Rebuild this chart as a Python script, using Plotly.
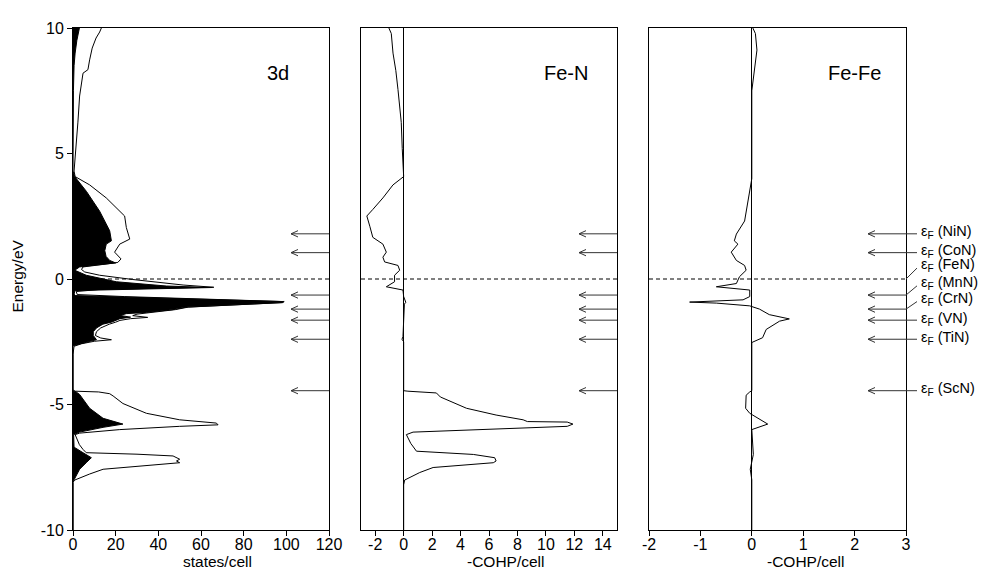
import plotly.graph_objects as go

# ---------------- data ----------------
# Panel 1: total DOS (line) and Fe 3d partial DOS (black fill), states/cell vs energy (eV)
E_total = [10.0, 9.84, 9.6, 9.2, 8.73, 8.34, 8.2, 7.29, 6.25, 4.94, 4.3, 4.08, 3.75, 3.23,
           2.51, 2.05, 1.59, 1.39, 1.07, 0.80, 0.66, 0.58, 0.48, 0.38, 0.28, 0.15, -0.02,
           -0.24, -0.33, -0.37, -0.42, -0.5, -0.62, -0.7, -0.8, -0.9, -0.94, -1.03, -1.12,
           -1.22, -1.33, -1.40, -1.46, -1.53, -1.58, -1.65, -1.72, -1.8, -1.95, -2.1, -2.25,
           -2.35, -2.42, -2.48, -2.58, -2.68, -3.0, -4.42, -4.47, -4.5, -4.57, -4.66, -4.96,
           -5.35, -5.61, -5.74, -5.81, -5.87, -6.0, -6.14, -6.2, -6.33, -6.6, -6.79, -6.92,
           -6.98, -7.05, -7.18, -7.25, -7.32, -7.45, -7.58, -7.77, -8.01, -8.1, -10.0]
dos_total = [13.3, 12.5, 10.8, 9.0, 7.8, 7.0, 4.7, 3.1, 2.3, 1.2, 0.5, 1.0, 7.8, 15.6,
             24.2, 25.0, 26.6, 21.9, 19.5, 22.5, 21.0, 14.0, 4.7, 4.0, 5.5, 12.5, 28.0,
             51.6, 66.0, 40.0, 12.0, 1.5, 2.0, 24.0, 62.0, 99.0, 98.4, 76.0, 54.0,
             48.0, 36.0, 30.0, 28.0, 35.0, 27.0, 22.0, 20.0, 17.0, 13.0, 11.0, 10.5,
             13.0, 18.0, 10.0, 4.0, 0.5, 0.0, 0.0, 1.0, 12.0, 17.2, 18.8, 23.4,
             34.4, 50.0, 67.2, 68.0, 50.0, 21.9, 3.1, 1.0, 1.6, 3.0, 4.7, 6.2,
             30.0, 46.9, 50.0, 48.5, 50.0, 29.7, 14.1, 7.8, 0.8, 0.0, 0.0]

E_3d = [10.0, 9.5, 9.0, 8.5, 7.5, 5.0, 4.3, 4.08, 3.49, 2.70, 1.92, 1.52, 1.39, 1.13, 0.90,
        0.74, 0.64, 0.55, 0.48, 0.35, 0.15, -0.11, -0.28, -0.34, -0.38, -0.42, -0.46, -0.6,
        -0.66, -0.72, -0.78, -0.84, -0.9, -0.94, -1.03, -1.12, -1.22, -1.33, -1.38, -1.45,
        -1.52, -1.58, -1.72, -1.8, -1.95, -2.1, -2.25, -2.35, -2.42, -2.48, -2.58, -2.66,
        -4.45, -4.5, -4.6, -5.15, -5.55, -5.68, -5.78, -5.91, -6.1, -6.2, -6.7, -6.92,
        -7.12, -7.32, -7.58, -8.0, -8.1, -10.0]
dos_3d = [3.0, 1.8, 1.0, 0.5, 0.2, 0.05, 0.0, 0.8, 6.3, 12.5, 17.2, 18.0, 15.6, 14.9, 15.5,
          17.2, 20.0, 10.0, 3.1, 0.8, 6.2, 20.3, 43.8, 65.0, 43.0, 22.0, 1.0, 0.5,
          1.0, 24.0, 49.0, 73.0, 98.5, 98.0, 75.0, 53.0, 46.9, 34.4, 25.0, 22.0,
          27.0, 22.0, 18.0, 14.0, 11.0, 9.5, 9.5, 10.5, 11.0, 8.0, 3.0, 0.0,
          0.0, 1.5, 3.1, 7.8, 14.1, 18.8, 23.4, 14.1, 3.1, 0.3, 0.5, 4.7,
          8.6, 6.2, 3.1, 0.5, 0.0, 0.0]

# Panel 2: Fe-N -COHP/cell
E_feN = [10.0, 9.78, 9.0, 8.3, 7.55, 6.24, 5.2, 4.27, 4.08, 3.75, 3.23, 2.77, 2.51, 2.1,
         1.66, 1.39, 1.07, 0.87, 0.68, 0.54, 0.35, 0.15, -0.11, -0.31, -0.44, -0.7, -0.85,
         -0.93, -1.0, -1.5, -2.3, -2.4, -2.5, -4.45, -4.47, -4.54, -4.70, -5.15, -5.42,
         -5.61, -5.68, -5.70, -5.78, -5.87, -5.91, -6.1, -6.2, -6.55, -6.86, -6.99, -7.12,
         -7.25, -7.32, -7.51, -7.71, -8.01, -8.2, -10.0]
cohp_feN = [-1.04, -0.87, -0.75, -0.55, -0.40, -0.17, -0.10, -0.05, 0.0, -0.75, -1.46, -2.17,
            -2.59, -2.38, -2.17, -1.46, -1.22, -1.46, -1.34, -0.40, -0.28, -0.64, -0.64,
            -1.22, -0.05, 0.0, 0.1, 0.15, 0.05, 0.02, -0.05, -0.12, 0.0, 0.0, 0.3, 2.3,
            2.58, 4.42, 6.5, 8.4, 8.7, 11.5, 11.9, 11.5, 9.6, 0.66, 0.19, 0.5, 0.9, 4.9,
            6.4, 6.5, 6.3, 2.07, 1.13, 0.07, 0.0, 0.0]

# Panel 3: Fe-Fe -COHP/cell
E_feFe = [10.0, 9.78, 9.12, 8.2, 7.5, 4.0, 3.23, 2.31, 1.79, 1.52, 1.39, 1.07, 0.74, 0.54,
          0.35, 0.09, -0.18, -0.31, -0.44, -0.70, -0.83, -0.92, -0.96, -1.07, -1.2, -1.33,
          -1.42, -1.59, -1.68, -2.01, -2.34, -2.53, -4.45, -4.5, -4.63, -5.15, -5.35, -5.78,
          -6.0, -6.99, -7.58, -8.0, -10.0]
cohp_feFe = [0.02, 0.07, 0.10, 0.05, 0.0, 0.0, -0.06, -0.14, -0.30, -0.34, -0.27, -0.40,
             -0.30, -0.14, -0.11, -0.24, -0.30, -0.69, -0.04, -0.04, -0.17, -1.21, -0.69,
             -0.04, 0.15, 0.28, 0.34, 0.73, 0.54, 0.28, 0.21, 0.0, 0.0, -0.04, -0.11, -0.12,
             -0.04, 0.31, 0.0, 0.03, -0.03, 0.0, 0.0]

# Fermi levels of the nitrides (eV, relative to FeN)
ef_compounds = ["NiN", "CoN", "FeN", "MnN", "CrN", "VN", "TiN", "ScN"]
ef_energies = [1.8, 1.05, 0.0, -0.64, -1.2, -1.64, -2.4, -4.45]

panel_titles = ["3d", "Fe-N", "Fe-Fe"]
x_titles = ["states/cell", "-COHP/cell", "-COHP/cell"]
x_ticks = [[0, 20, 40, 60, 80, 100, 120],
           [-2, 0, 2, 4, 6, 8, 10, 12, 14],
           [-2, -1, 0, 1, 2, 3]]
y_ticks = [-10, -5, 0, 5, 10]

# ---------------- layout geometry ----------------
# The page body adds an 8px margin, so the figure is made smaller by that amount
# and all margins are measured from the figure's own corner.
BODY = 8
W, H = 989, 578
plot_left, plot_right, plot_top, plot_bottom = 73, 906, 21, 530
pw = plot_right - plot_left
ph = plot_bottom - plot_top
fig_w, fig_h = W - BODY, H - BODY
ml, mt = plot_left - BODY, plot_top - BODY
mr, mb = fig_w - ml - pw, fig_h - mt - ph

panel_px = [(73, 329), (361, 617), (649, 906)]
doms = [((a - plot_left) / pw, (b - plot_left) / pw) for a, b in panel_px]
xranges = [(0, 120), (-3, 15), (-2, 3)]
yr = (-10, 10)
dy_px = (yr[1] - yr[0]) / ph


def paper_x(px):
    return (px - plot_left) / pw


def paper_y(py):
    return (plot_bottom - py) / ph


FONT = "Liberation Sans, Arial, sans-serif"

fig = go.Figure()

# Panel 1
fig.add_trace(go.Scatter(x=dos_3d, y=E_3d, mode="lines", fill="tozerox", fillcolor="black",
                         line=dict(color="black", width=1), xaxis="x", yaxis="y",
                         showlegend=False, hoverinfo="skip"))
fig.add_trace(go.Scatter(x=dos_total, y=E_total, mode="lines",
                         line=dict(color="black", width=1), xaxis="x", yaxis="y",
                         showlegend=False, hoverinfo="skip"))
# Panel 2
fig.add_trace(go.Scatter(x=cohp_feN, y=E_feN, mode="lines",
                         line=dict(color="black", width=1), xaxis="x2", yaxis="y2",
                         showlegend=False, hoverinfo="skip"))
# Panel 3
fig.add_trace(go.Scatter(x=cohp_feFe, y=E_feFe, mode="lines",
                         line=dict(color="black", width=1), xaxis="x3", yaxis="y3",
                         showlegend=False, hoverinfo="skip"))

# Arrows marking Fermi levels
arrow_len_px = 38
head_len_px = 7
head_half_px = 3.2
axnames = [("x", "y"), ("x2", "y2"), ("x3", "y3")]
for i, (xa, ya) in enumerate(axnames):
    x0, x1 = xranges[i]
    dx_px = (x1 - x0) / (panel_px[i][1] - panel_px[i][0])
    xs, ys = [], []
    for name, e in zip(ef_compounds, ef_energies):
        if e == 0.0:
            continue
        tip = x1 - arrow_len_px * dx_px
        xs += [x1, tip, None,
               tip + head_len_px * dx_px, tip, tip + head_len_px * dx_px, None]
        ys += [e, e, None, e + head_half_px * dy_px, e, e - head_half_px * dy_px, None]
    fig.add_trace(go.Scatter(x=xs, y=ys, mode="lines", line=dict(color="#333333", width=1),
                             xaxis=xa, yaxis=ya, showlegend=False, hoverinfo="skip",
                             cliponaxis=False))

shapes = []
# dashed Fermi level (FeN) line in each panel
for xa, ya in axnames:
    shapes.append(dict(type="line", xref=f"{xa} domain", yref=ya, x0=0, x1=1, y0=0, y1=0,
                       line=dict(color="black", width=1, dash="4px,3px"), layer="above"))

# label leaders and labels to the right of panel 3
label_offset_px = {"FeN": 13, "MnN": 11, "CrN": 9}
x_edge = 1.0
x_lead = paper_x(917)
x_text = paper_x(919)
annotations = []
for name, e in zip(ef_compounds, ef_energies):
    off = label_offset_px.get(name, 0)
    shapes.append(dict(type="line", xref="paper", yref="y", x0=x_edge, x1=x_lead,
                       y0=e, y1=e + off * 0.85 * dy_px, line=dict(color="#333333", width=1)))
    annotations.append(dict(text=f"ε<sub>F</sub> ({name})", xref="paper", yref="y",
                            x=x_text, y=e + off * dy_px + 1.5 * dy_px,
                            xanchor="left", yanchor="middle", showarrow=False,
                            font=dict(family=FONT, size=14.5, color="black")))

# panel titles
for i, t in enumerate(panel_titles):
    xa = axnames[i][0]
    annotations.append(dict(text=t, xref=f"{xa} domain", yref="paper", x=0.80,
                            y=paper_y(67), xanchor="center", yanchor="middle",
                            showarrow=False, font=dict(family=FONT, size=20, color="black")))

# axis titles (below each panel)
title_centers_px = [217, 506, 806]
for t, cx in zip(x_titles, title_centers_px):
    annotations.append(dict(text=t, xref="paper", yref="paper", x=paper_x(cx),
                            y=paper_y(562), xanchor="center", yanchor="middle",
                            showarrow=False, font=dict(family=FONT, size=15.5, color="black")))
annotations.append(dict(text="Energy/eV", xref="paper", yref="paper", x=paper_x(18),
                        y=paper_y(273), xanchor="center", yanchor="middle",
                        textangle=-90, showarrow=False,
                        font=dict(family=FONT, size=15.5, color="black")))

axis_common = dict(showline=True, mirror=True, linecolor="black", linewidth=1,
                   showgrid=False, ticks="outside", ticklen=5, tickcolor="black",
                   tickfont=dict(family=FONT, size=16, color="black"))

layout = dict(width=fig_w, height=fig_h, margin=dict(l=ml, r=mr, t=mt, b=mb),
              paper_bgcolor="white", plot_bgcolor="white", showlegend=False,
              shapes=shapes, annotations=annotations)

for i in range(3):
    sx = "" if i == 0 else str(i + 1)
    xa = dict(axis_common, domain=list(doms[i]), range=list(xranges[i]),
              anchor="y" + sx, tickvals=x_ticks[i],
              ticktext=[str(v) for v in x_ticks[i]], ticklabelstandoff=-5,
              zeroline=(i > 0), zerolinecolor="black", zerolinewidth=1)
    ya = dict(axis_common, domain=[0, 1], range=list(yr), anchor="x" + sx,
              zeroline=False)
    if i == 0:
        ya.update(tickvals=y_ticks, ticktext=[str(v) for v in y_ticks])
    else:
        ya.update(showticklabels=False, ticks="", matches="y")
    layout["xaxis" + sx] = xa
    layout["yaxis" + sx] = ya

fig.update_layout(**layout)
fig.write_html("out.html")
